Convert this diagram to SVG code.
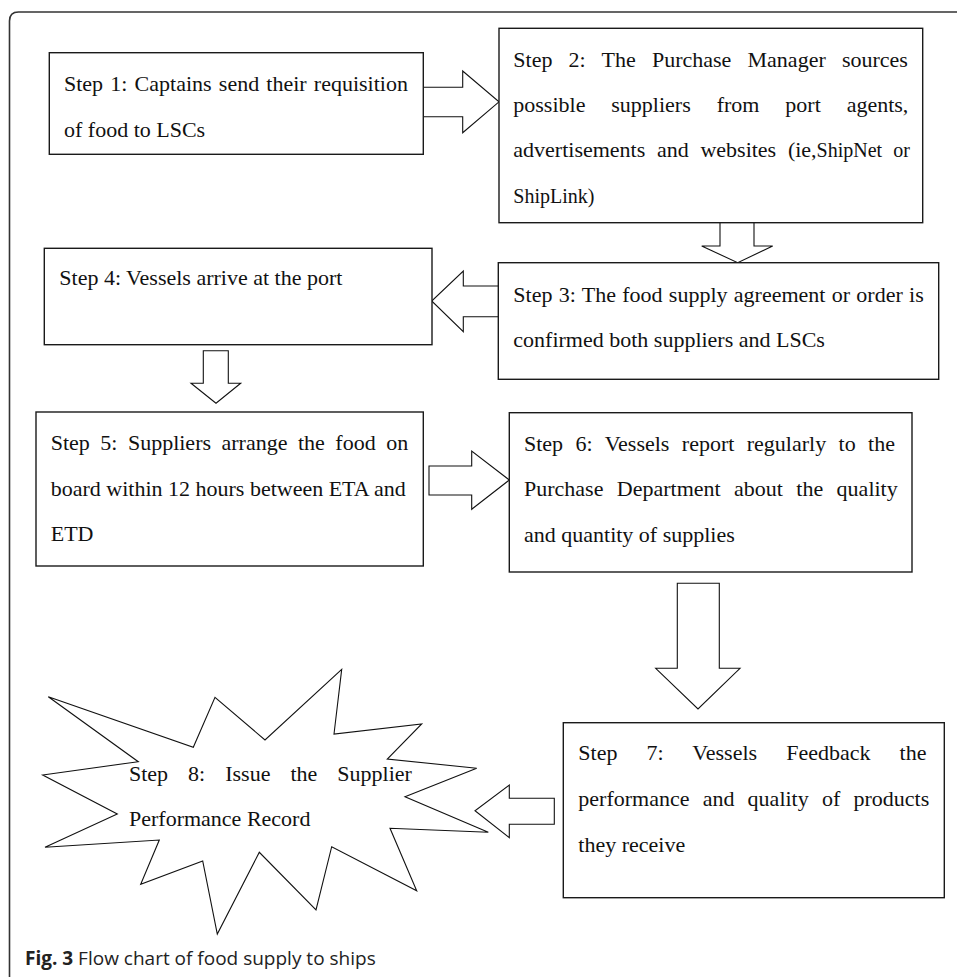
<svg xmlns="http://www.w3.org/2000/svg" width="957" height="977" viewBox="0 0 957 977">
<style>
.box{fill:#fff;stroke:#1a1a1a;stroke-width:1.4}
.arr{fill:#fff;stroke:#111;stroke-width:1.1;stroke-linejoin:miter}
.t{font-family:"Liberation Serif","Times New Roman",serif;font-size:22px;fill:#111}
.s{font-size:20px}
.cap{font-family:"Open Sans","Noto Sans",sans-serif;font-size:19px;fill:#222}
.b{font-weight:bold}
</style>
<rect width="957" height="977" fill="#fff"/>
<g id="frame">
<path d="M9.5,977 V21 Q9.5,12 18.5,12 H957" fill="none" stroke="#333" stroke-width="1.6"/>
</g>
<g id="connectors">
<path class="arr" d="M423.3,87.3 H462.7 V71 L499,101.8 L462.7,132.7 V116.7 H423.3"/>
<path class="arr" d="M720,222.7 V246 H701.7 L737.7,262.7 L772.7,246 H754 V222.7"/>
<path class="arr" d="M499,286 H463.3 V271 L431.7,301 L463.3,331.7 V316.7 H499"/>
<path class="arr" d="M203.3,350.7 H228.3 V383.3 H240.7 L216,403.3 L191,383.3 H203.3 Z"/>
<path class="arr" d="M429,466 H471.7 V451 L509.3,480 L471.7,509.3 V495 H429 Z"/>
<path class="arr" d="M677.3,583.3 H719.3 V668.3 H740 L698,709 L655.7,668.3 H677.3 Z"/>
<path class="arr" d="M554.3,798.3 H509.3 V785 L475,810.7 L509.3,837.7 V824.3 H554.3 Z"/>
</g>
<g id="step1">
<rect class="box" x="49.3" y="52.7" width="374" height="101.6"/>
<text class="t" x="64" y="90.7" word-spacing="1.7">Step 1: Captains send their requisition</text>
<text class="t" x="64" y="136.7">of food to LSCs</text>
</g>
<g id="step2">
<rect class="box" x="499" y="28.3" width="423.7" height="194.4"/>
<text class="t" x="513.3" y="66.7" word-spacing="10.7">Step 2: The Purchase Manager sources</text>
<text class="t" x="513.3" y="112" word-spacing="20.4">possible suppliers from port agents,</text>
<text class="t" x="513.3" y="157.3" word-spacing="6.2">advertisements and websites (ie,<tspan class="s">ShipNet or</tspan></text>
<text class="t s" x="513.3" y="202.7">ShipLink)</text>
</g>
<g id="step3">
<rect class="box" x="498.3" y="262.7" width="440.4" height="116.6"/>
<text class="t" x="513.3" y="301.7" word-spacing="0.8">Step 3: The food supply agreement or order is</text>
<text class="t" x="513.3" y="347.3">confirmed both suppliers and LSCs</text>
</g>
<g id="step4">
<rect class="box" x="44.3" y="248.3" width="387.7" height="96.4"/>
<text class="t" x="59.3" y="285">Step 4: Vessels arrive at the port</text>
</g>
<g id="step5">
<rect class="box" x="36" y="412" width="387.3" height="154"/>
<text class="t" x="50.7" y="450" word-spacing="5">Step 5: Suppliers arrange the food on</text>
<text class="t" x="50.7" y="495.7">board within 12 hours between ETA and</text>
<text class="t" x="50.7" y="541.4">ETD</text>
</g>
<g id="step6">
<rect class="box" x="509.3" y="412.7" width="402.7" height="159.3"/>
<text class="t" x="524" y="450.7" word-spacing="6.9">Step 6: Vessels report regularly to the</text>
<text class="t" x="524" y="496" word-spacing="7.9">Purchase Department about the quality</text>
<text class="t" x="524" y="541.7">and quantity of supplies</text>
</g>
<g id="step7">
<rect class="box" x="563.3" y="722.7" width="381" height="175"/>
<text class="t" x="578.3" y="760" word-spacing="23.6">Step 7: Vessels Feedback the</text>
<text class="t" x="578.3" y="805.7" word-spacing="7.7">performance and quality of products</text>
<text class="t" x="578.3" y="851.7">they receive</text>
</g>
<g id="step8">
<polygon class="arr" points="48.3,696.7 193.3,747.3 215,697.3 265,740 341.7,669.3 334,734 421.7,724 387.3,759 476.7,768.3 405,796.7 488.3,832.3 390,828.3 416.7,890.7 331.7,846.7 316,910 259.3,852.3 217.3,934 202.7,861 140.7,884.3 159.3,840 45,847.3 117.3,814 42.7,775 138.3,761.7"/>
<text class="t" x="129" y="780.7" word-spacing="14.5">Step 8: Issue the Supplier</text>
<text class="t" x="129" y="825.7">Performance Record</text>
</g>
<g id="caption">
<text class="cap" x="25" y="965"><tspan class="b">Fig. 3</tspan> Flow chart of food supply to ships</text>
</g>
</svg>
